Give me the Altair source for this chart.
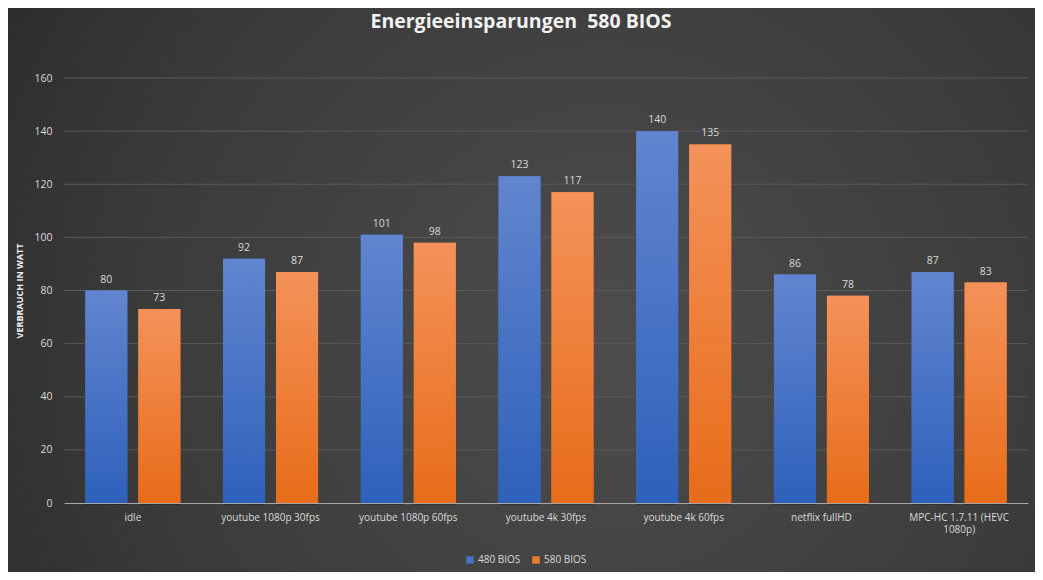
import pandas as pd
import altair as alt

# Werte aus dem Diagramm
szenarien = ['idle', 'youtube 1080p 30fps', 'youtube 1080p 60fps', 'youtube 4k 30fps',
             'youtube 4k 60fps', 'netflix fullHD', 'MPC-HC 1.7.11 (HEVC 1080p)']
bios_480 = [80, 92, 101, 123, 140, 86, 87]
bios_580 = [73, 87, 98, 117, 135, 78, 83]
serien = ['480 BIOS', '580 BIOS']
y_ticks = [0, 20, 40, 60, 80, 100, 120, 140, 160]

rows = []
for s, a, b in zip(szenarien, bios_480, bios_580):
    rows.append({'szenario': s, 'bios': serien[0], 'watt': a})
    rows.append({'szenario': s, 'bios': serien[1], 'watt': b})
df = pd.DataFrame(rows)

W, H = 964, 425
PAD = {'left': 56, 'top': 70, 'right': 7, 'bottom': 69}

label_col = '#d9d9d9'
FONT = 'Open Sans'

# Hintergrund (radialer Verlauf über die ganze Fläche)
bg = alt.Chart(alt.Data(values=[{'a': 1}])).mark_rect(
    color=alt.Gradient(
        gradient='radial',
        stops=[alt.GradientStop(color='#4d4d4d', offset=0),
               alt.GradientStop(color='#3a3a3a', offset=0.55),
               alt.GradientStop(color='#212121', offset=1)],
        x1=0.58, y1=0.55, x2=0.58, y2=0.55, r1=0, r2=0.85
    )
).encode(
    x=alt.value(-PAD['left']), x2=alt.value(W + PAD['right']),
    y=alt.value(-PAD['top']), y2=alt.value(H + PAD['bottom'])
)

x_enc = alt.X('szenario:N', sort=szenarien, title=None,
              scale=alt.Scale(paddingInner=0.31, paddingOuter=0.155),
              axis=alt.Axis(labelAngle=0, labelColor=label_col, labelFontSize=10,
                            labelFont=FONT, labelPadding=9, ticks=False,
                            domainColor='#a6a6a6', domainWidth=1.2, labelLimit=200,
                            zindex=1,
                            labelExpr="datum.label == 'MPC-HC 1.7.11 (HEVC 1080p)' ? "
                                      "['MPC-HC 1.7.11 (HEVC', '1080p)'] : datum.label"))
xo_enc = alt.XOffset('bios:N', sort=serien, scale=alt.Scale(paddingInner=0.2075, paddingOuter=0))
y_scale = alt.Scale(domain=[0, 160])
y_enc = alt.Y('watt:Q', title='VERBRAUCH IN WATT', scale=y_scale,
              axis=alt.Axis(values=y_ticks, labelColor=label_col, grid=False,
                            labelFontSize=10.5, labelFont=FONT, labelPadding=12,
                            ticks=False, domain=False, zindex=1,
                            titleColor='#f2f2f2', titleFontSize=9, titleFont=FONT,
                            titleFontWeight='bold', titlePadding=9))

# Gitterlinien (hinter den Balken)
grid = alt.Chart(pd.DataFrame({'watt': y_ticks[1:]})).mark_rule(
    color='#5a5a5a', strokeWidth=1
).encode(y=alt.Y('watt:Q', scale=y_scale))

base = alt.Chart(df).encode(x=x_enc, xOffset=xo_enc, y=y_enc)

# Schatten
shadow = base.mark_bar(color='#000000', opacity=0.25, xOffset=2, yOffset=2)

bars = base.mark_bar().encode(
    color=alt.Color('bios:N', sort=serien,
                    scale=alt.Scale(domain=serien, range=['#4472c4', '#ed7d31']),
                    legend=alt.Legend(title=None, orient='none', direction='horizontal',
                                      legendX=401, legendY=477, symbolType='square',
                                      symbolSize=55, symbolStrokeWidth=0,
                                      labelColor=label_col, labelFontSize=10,
                                      labelFont=FONT, columnPadding=10,
                                      labelOffset=3, zindex=1))
)


def verlauf(oben, unten):
    return alt.Gradient(gradient='linear',
                        stops=[alt.GradientStop(color=oben, offset=0),
                               alt.GradientStop(color=unten, offset=1)],
                        x1=0, y1=0, x2=0, y2=1)


blau = base.mark_bar(color=verlauf('#6285cf', '#2e61bb')).transform_filter(
    alt.datum.bios == serien[0])
orange = base.mark_bar(color=verlauf('#f4925a', '#e86c19')).transform_filter(
    alt.datum.bios == serien[1])

text = base.mark_text(dy=-11, color=label_col, fontSize=10.5, font=FONT).encode(
    text=alt.Text('watt:Q'))

chart = alt.layer(bg, grid, shadow, bars, blau, orange, text).properties(
    width=W, height=H,
    autosize=alt.AutoSizeParams(type='none'),
    padding=PAD,
    background='#333333',
    title=alt.TitleParams('Energieeinsparungen \u00a0580 BIOS', color='#f2f2f2', fontSize=19.5,
                          font=FONT, fontWeight='bold', anchor='middle',
                          frame='group', offset=-24, dx=-25, zindex=1)
).configure_view(stroke=None)

chart.save("out.html", embed_options={"renderer": "svg", "actions": False})
